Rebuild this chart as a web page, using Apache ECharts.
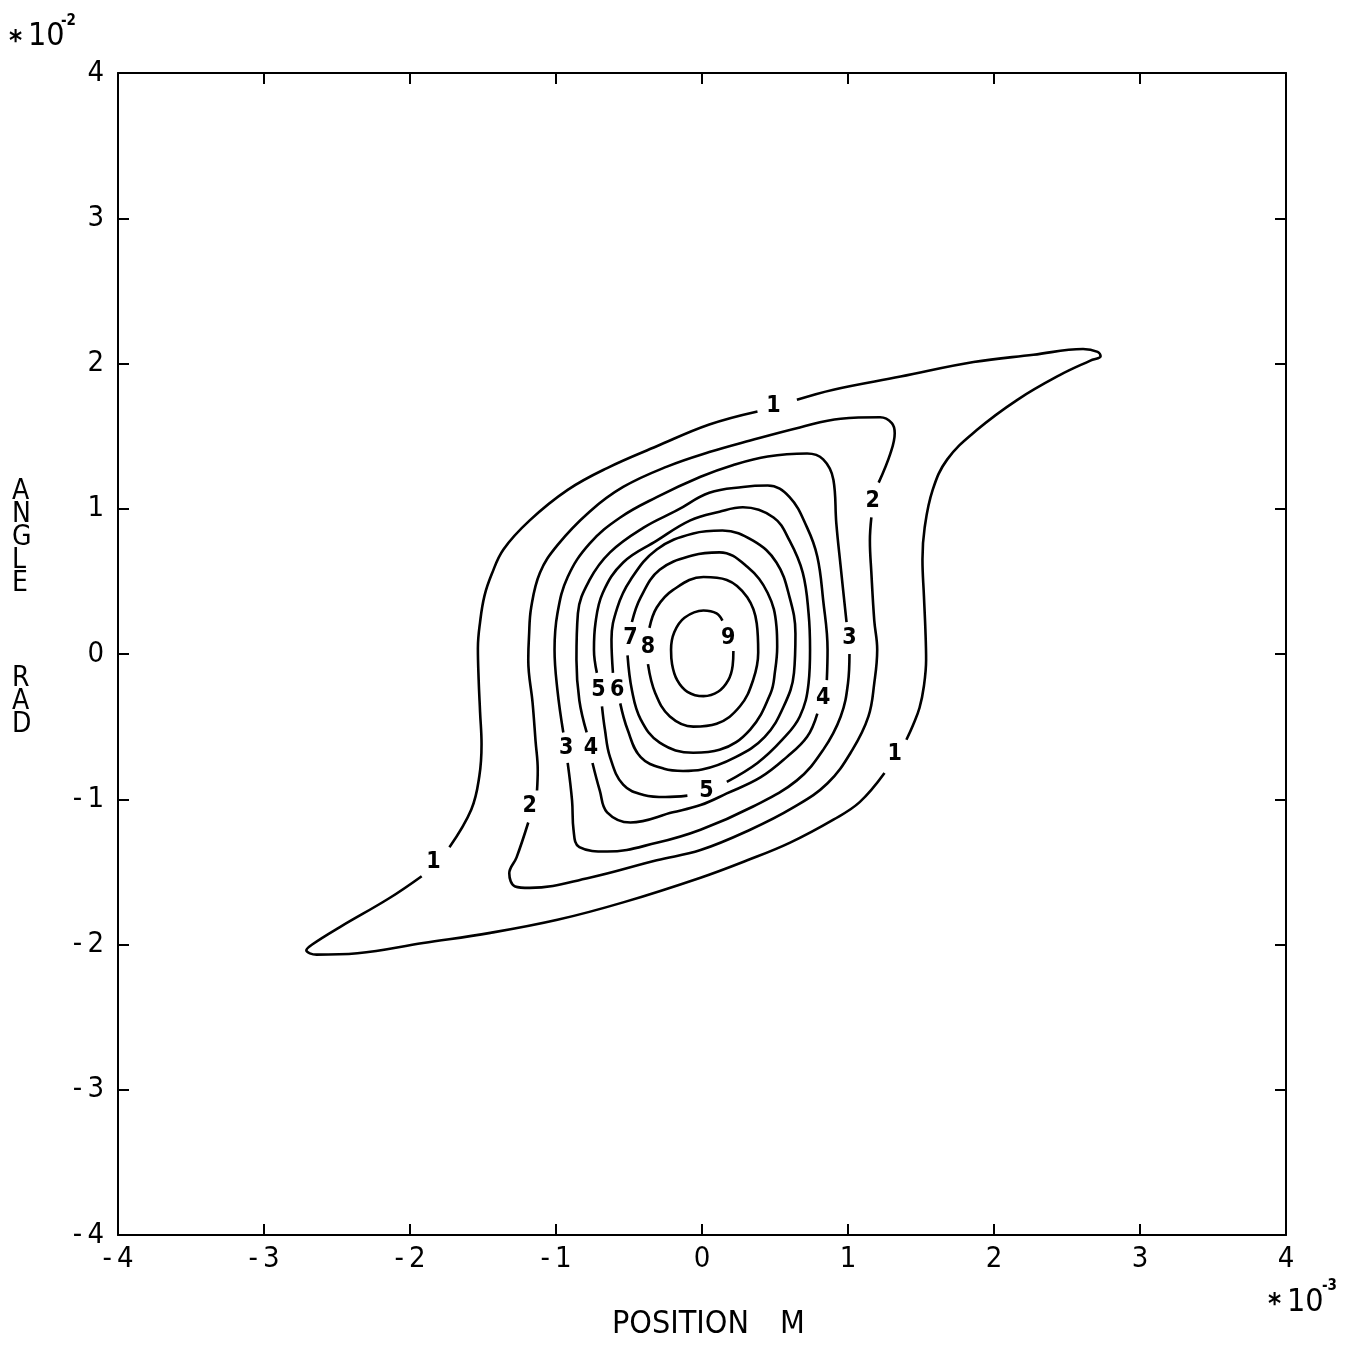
<!DOCTYPE html>
<html>
<head>
<meta charset="utf-8">
<script src="https://cdn.jsdelivr.net/npm/echarts@6/dist/echarts.min.js"></script>
<style>
  html, body { margin: 0; padding: 0; background: #fff; }
  #chart { width: 1356px; height: 1352px; }
</style>
</head>
<body>
<div id="chart"></div>
<script>
// Axis ticks: position in units of 1e-3 m, angle in units of 1e-2 rad
const xTicks = [-4, -3, -2, -1, 0, 1, 2, 3, 4];
const yTicks = [-4, -3, -2, -1, 0, 1, 2, 3, 4];

// Contour paths as [position, angle] pairs; each level is split where its label sits
const contour1 = [
  [[0.65,1.75],[0.90,1.82],[1.36,1.91],[1.86,2.01],[2.27,2.06],[2.61,2.10],[2.71,2.08],[2.73,2.05],[2.66,2.02],[2.45,1.92],[2.16,1.75],[1.88,1.54],[1.68,1.34],[1.58,1.13],[1.525,0.87],[1.51,0.65],[1.52,0.40],[1.53,0.17],[1.535,-0.04],[1.52,-0.22],[1.49,-0.37],[1.445,-0.49],[1.40,-0.59]],
  [[1.25,-0.82],[1.08,-1.02],[0.90,-1.14],[0.60,-1.30],[0.31,-1.42],[-0.01,-1.54],[-0.54,-1.71],[-0.99,-1.83],[-1.45,-1.92],[-1.91,-1.99],[-2.36,-2.06],[-2.64,-2.07],[-2.71,-2.04],[-2.67,-2.00],[-2.48,-1.88],[-2.14,-1.68],[-1.92,-1.53]],
  [[-1.73,-1.33],[-1.58,-1.07],[-1.525,-0.84],[-1.51,-0.62],[-1.52,-0.40],[-1.53,-0.17],[-1.535,0.04],[-1.52,0.22],[-1.49,0.40],[-1.44,0.55],[-1.36,0.72],[-1.18,0.92],[-0.92,1.13],[-0.65,1.28],[-0.31,1.43],[0.05,1.58],[0.38,1.67]]
];
const contour2 = [
  [[1.16,0.94],[1.15,0.78],[1.16,0.56],[1.18,0.23],[1.20,0.03],[1.18,-0.20],[1.14,-0.43],[1.03,-0.66],[0.86,-0.89],[0.62,-1.06],[0.33,-1.21],[-0.01,-1.35],[-0.31,-1.42],[-0.77,-1.54],[-1.18,-1.61],[-1.28,-1.60],[-1.32,-1.51],[-1.27,-1.40],[-1.19,-1.16]],
  [[-1.13,-0.94],[-1.125,-0.80],[-1.14,-0.60],[-1.16,-0.34],[-1.19,-0.04],[-1.185,0.12],[-1.17,0.32],[-1.11,0.56],[-0.99,0.75],[-0.77,0.98],[-0.54,1.15],[-0.24,1.29],[0.05,1.39],[0.33,1.47],[0.67,1.56],[0.95,1.62],[1.22,1.63],[1.30,1.59],[1.32,1.52],[1.29,1.38],[1.21,1.18]]
];
const contour3 = [
  [[1.01,0.00],[1.00,-0.20],[0.95,-0.43],[0.83,-0.66],[0.65,-0.87],[0.35,-1.05],[-0.01,-1.21],[-0.31,-1.30],[-0.65,-1.36],[-0.84,-1.33],[-0.88,-1.21],[-0.89,-1.01],[-0.92,-0.75]],
  [[-0.95,-0.54],[-0.99,-0.25],[-1.01,0.03],[-0.99,0.28],[-0.92,0.53],[-0.77,0.76],[-0.56,0.94],[-0.31,1.08],[-0.01,1.22],[0.21,1.30],[0.45,1.36],[0.72,1.38],[0.83,1.34],[0.90,1.20],[0.92,0.90],[0.95,0.60],[0.99,0.22]]
];
const contour4 = [
  [[0.79,-0.41],[0.72,-0.57],[0.58,-0.71],[0.40,-0.85],[0.17,-0.96],[-0.01,-1.04],[-0.20,-1.09],[-0.49,-1.16],[-0.65,-1.09],[-0.70,-0.94],[-0.75,-0.75]],
  [[-0.79,-0.54],[-0.84,-0.32],[-0.86,-0.04],[-0.85,0.28],[-0.77,0.51],[-0.63,0.70],[-0.40,0.87],[-0.17,0.99],[0.05,1.11],[0.28,1.15],[0.45,1.16],[0.60,1.08],[0.72,0.87],[0.79,0.67],[0.83,0.37],[0.86,0.03],[0.855,-0.18]]
];
const contour5 = [
  [[-0.72,-0.13],[-0.74,0.03],[-0.73,0.21],[-0.68,0.42],[-0.54,0.63],[-0.31,0.78],[-0.08,0.92],[0.12,0.98],[0.28,1.01],[0.49,0.94],[0.60,0.78],[0.69,0.56],[0.73,0.28],[0.74,0.03],[0.73,-0.20],[0.67,-0.43],[0.55,-0.59],[0.38,-0.75],[0.17,-0.88]],
  [[-0.10,-0.975],[-0.25,-0.985],[-0.40,-0.97],[-0.54,-0.90],[-0.63,-0.71],[-0.665,-0.52],[-0.685,-0.36]]
];
const contour6 = [
  [[-0.61,-0.13],[-0.62,0.10],[-0.58,0.32],[-0.49,0.51],[-0.31,0.72],[-0.06,0.83],[0.14,0.85],[0.35,0.78],[0.51,0.63],[0.60,0.39],[0.64,0.14],[0.63,-0.13],[0.56,-0.36],[0.43,-0.57],[0.23,-0.71],[0.00,-0.795],[-0.13,-0.805],[-0.26,-0.79],[-0.42,-0.71],[-0.51,-0.52],[-0.56,-0.34]]
];
const contour7 = [
  [[-0.48,0.22],[-0.42,0.39],[-0.29,0.58],[-0.06,0.68],[0.12,0.70],[0.31,0.60],[0.45,0.42],[0.51,0.19],[0.515,0.05],[0.50,-0.12],[0.47,-0.27],[0.33,-0.52],[0.12,-0.66],[-0.06,-0.68],[-0.29,-0.61],[-0.42,-0.45],[-0.48,-0.25],[-0.51,-0.01]]
];
const contour8 = [
  [[-0.36,0.18],[-0.31,0.32],[-0.20,0.44],[0.01,0.53],[0.17,0.51],[0.31,0.39],[0.375,0.21],[0.385,0.01],[0.35,-0.18],[0.26,-0.36],[0.10,-0.48],[-0.06,-0.50],[-0.22,-0.43],[-0.32,-0.27],[-0.37,-0.07]]
];
const contour9 = [
  [[0.215,0.02],[0.21,-0.08],[0.18,-0.18],[0.11,-0.26],[0.01,-0.29],[-0.10,-0.26],[-0.17,-0.18],[-0.205,-0.07],[-0.212,0.03],[-0.19,0.15],[-0.12,0.25],[0.01,0.30],[0.10,0.28],[0.14,0.23]]
];

// Level labels placed in the gaps of the contour lines
const contourLabels = [
  [0.49, 1.71, '1'], [-1.84, -1.43, '1'], [1.32, -0.69, '1'],
  [1.17, 1.05, '2'], [-1.18, -1.05, '2'],
  [1.01, 0.11, '3'], [-0.93, -0.65, '3'],
  [0.83, -0.30, '4'], [-0.76, -0.65, '4'],
  [0.03, -0.94, '5'], [-0.71, -0.25, '5'],
  [-0.58, -0.25, '6'],
  [-0.49, 0.11, '7'],
  [-0.37, 0.05, '8'],
  [0.18, 0.11, '9']
];

const FONT = "'Liberation Sans Narrow', 'DejaVu Sans Condensed', 'Liberation Sans', sans-serif";
const levels = [contour1, contour2, contour3, contour4, contour5, contour6, contour7, contour8, contour9];

const series = [];
levels.forEach((segments, i) => {
  segments.forEach((seg, j) => {
    series.push({
      name: 'level ' + (i + 1) + '.' + j,
      type: 'line',
      data: seg,
      smooth: 0.4,
      symbol: 'none',
      silent: true,
      xAxisIndex: 0,
      yAxisIndex: 0,
      lineStyle: { color: '#000', width: 2.6 }
    });
  });
});
series.push({
  type: 'scatter',
  xAxisIndex: 0,
  yAxisIndex: 0,
  symbolSize: 1,
  silent: true,
  itemStyle: { color: 'rgba(0,0,0,0)' },
  data: contourLabels.map(d => ({ value: [d[0], d[1]], name: d[2] })),
  label: {
    show: true,
    position: 'inside',
    formatter: p => p.name,
    fontFamily: FONT,
    fontSize: 23,
    fontWeight: 'bold',
    color: '#000',
    textBorderWidth: 0,
    opacity: 1
  }
});

const tickFmt = v => (v < 0 ? '-\u2009' + (-v) : String(v));
const lineStyle = { color: '#000', width: 2 };
function axis(kind, pos, ticks, showLabels) {
  return {
    type: 'value',
    position: pos,
    min: ticks[0],
    max: ticks[ticks.length - 1],
    interval: ticks[1] - ticks[0],
    axisLine: { show: true, onZero: false, lineStyle },
    axisTick: { show: true, inside: true, length: 11, lineStyle },
    splitLine: { show: false },
    axisLabel: {
      show: showLabels,
      showMinLabel: true,
      showMaxLabel: true,
      margin: kind === 'x' ? 10 : 14,
      formatter: tickFmt,
      fontFamily: FONT,
      fontSize: 29,
      color: '#000'
    }
  };
}

const chart = echarts.init(document.getElementById('chart'), null, { renderer: 'canvas' });
chart.setOption({
  animation: false,
  backgroundColor: '#fff',
  grid: { left: 118, right: 70, top: 73, bottom: 117 },
  xAxis: [axis('x', 'bottom', xTicks, true), axis('x', 'top', xTicks, false)],
  yAxis: [axis('y', 'left', yTicks, true), axis('y', 'right', yTicks, false)],
  series,
  graphic: [
    { type: 'text', left: 9, top: 29, style: { text: '*', font: 'bold 28px ' + FONT, fill: '#000' } },
    { type: 'text', left: 28, top: 21, style: { text: '10', font: '32px ' + FONT, fill: '#000' } },
    { type: 'text', left: 61, top: 14, style: { text: '-2', font: 'bold 15px ' + FONT, fill: '#000' } },
    { type: 'text', left: 1268, top: 1292, style: { text: '*', font: 'bold 28px ' + FONT, fill: '#000' } },
    { type: 'text', left: 1287, top: 1287, style: { text: '10', font: '32px ' + FONT, fill: '#000' } },
    { type: 'text', left: 1322, top: 1279, style: { text: '-3', font: 'bold 15px ' + FONT, fill: '#000' } },
    { type: 'text', left: 612, top: 1309, style: { text: 'POSITION', font: '32px ' + FONT, fill: '#000' } },
    { type: 'text', left: 780, top: 1309, style: { text: 'M', font: '32px ' + FONT, fill: '#000' } },
    { type: 'text', left: 12, top: 478, style: { text: 'A\nN\nG\nL\nE', font: '28px ' + FONT, lineHeight: 23, fill: '#000' } },
    { type: 'text', left: 12, top: 665, style: { text: 'R\nA\nD', font: '28px ' + FONT, lineHeight: 23, fill: '#000' } }
  ]
});
</script>
</body>
</html>
